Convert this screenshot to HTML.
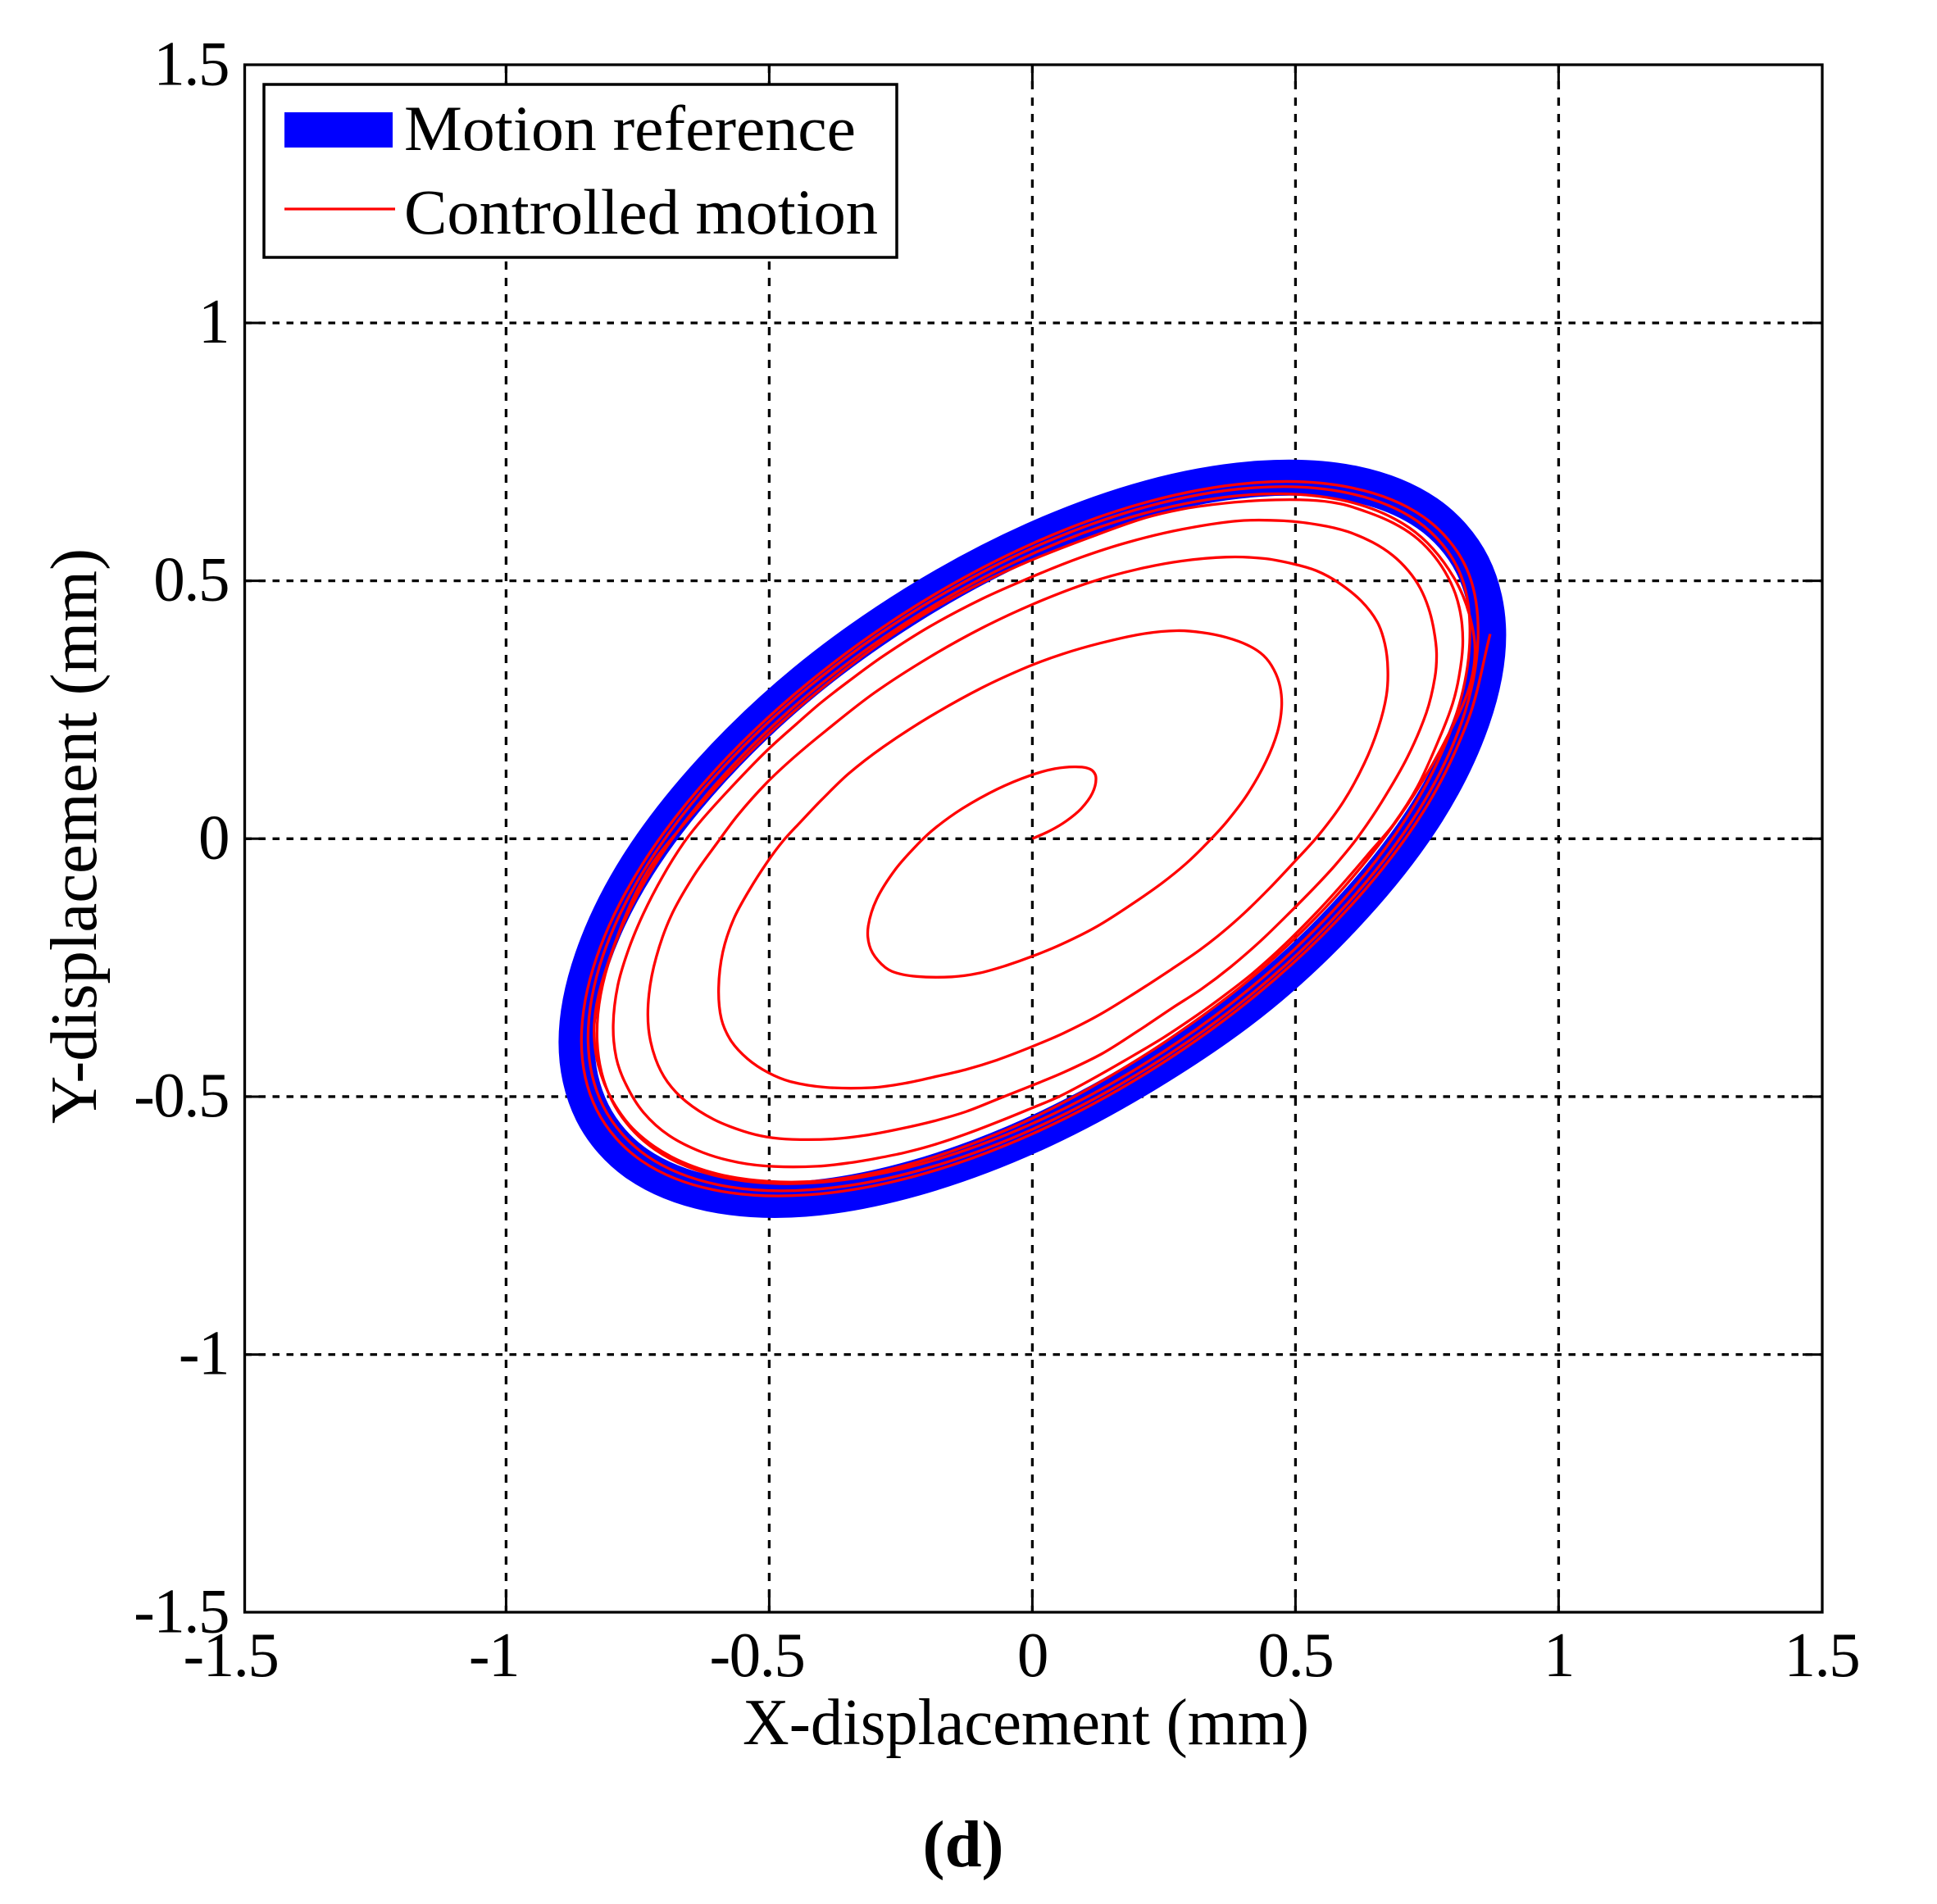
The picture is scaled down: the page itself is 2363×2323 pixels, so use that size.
<!DOCTYPE html>
<html>
<head>
<meta charset="utf-8">
<title>Motion reference vs controlled motion</title>
<style>
html,body{margin:0;padding:0;background:#fff;}
svg{display:block;}
text{font-family:"Liberation Serif",serif;fill:#000;}
</style>
</head>
<body>
<svg id="chart" width="2363" height="2323" viewBox="0 0 2363 2323" xmlns="http://www.w3.org/2000/svg">
  <rect x="0" y="0" width="2363" height="2323" fill="#fff"/>
  <g id="grid"></g>
  <g id="series"></g>
  <g id="frame"></g>
  <g id="labels"></g>
  <g>
    <rect x="322" y="103" width="772" height="211" fill="#fff" stroke="#000" stroke-width="3.5"/>
    <rect x="347" y="137" width="132" height="43" fill="#0000ff"/>
    <text x="493" y="183" font-size="78" textLength="551" lengthAdjust="spacingAndGlyphs">Motion reference</text>
    <line x1="347" y1="255" x2="482" y2="255" stroke="#ff0000" stroke-width="3.3"/>
    <text x="493" y="285" font-size="78" textLength="578" lengthAdjust="spacingAndGlyphs">Controlled motion</text>
  </g>
  <text x="906" y="2128" font-size="81" textLength="691" lengthAdjust="spacingAndGlyphs">X-displacement (mm)</text>
  <text transform="translate(117,1371) rotate(-90)" x="0" y="0" font-size="81" textLength="702" lengthAdjust="spacingAndGlyphs">Y-displacement (mm)</text>
  <text x="1175" y="2277" font-size="81" font-weight="bold" text-anchor="middle">(d)</text>
</svg>
<script>
const xTicks = [-1.5, -1, -0.5, 0, 0.5, 1, 1.5];
const yTicks = [-1.5, -1, -0.5, 0, 0.5, 1, 1.5];
const xTickLabels = ["-1.5", "-1", "-0.5", "0", "0.5", "1", "1.5"];
const yTickLabels = ["-1.5", "-1", "-0.5", "0", "0.5", "1", "1.5"];

const referenceX = [0,.224,.433,.612,.750,.836,.866,.836,.750,.612,.433,.224,0,-.224,-.433,-.612,-.750,-.836,-.866,-.836,-.750,-.612,-.433,-.224];
const referenceY = [.578,.661,.698,.688,.631,.531,.395,.232,.052,-.130,-.304,-.452,-.574,-.658,-.698,-.688,-.631,-.531,-.395,-.232,-.052,.130,.304,.456];

const controlledX = [
0,.037,.063,.094,.118,.124,.115,.084,.043,0,-.067,-.134,-.196,-.207,
-.264,-.300,-.316,-.313,-.295,-.269,-.233,-.139,-.108,-.046,0,.048,.126,.188,.250,.292,.333,.370,.411,.448,.468,.476,.473,.460,.442,.411,.370,.323,.281,.209,.126,.053,0,
-.093,-.196,-.290,-.352,-.404,-.446,-.472,-.503,-.539,-.570,-.591,-.599,-.594,-.575,-.544,-.500,-.466,-.404,-.290,-.243,-.191,-.124,-.072,0,.053,.131,.198,.271,.318,.364,.401,.448,.499,.541,.593,.634,.660,.676,.677,.671,.660,.629,.577,.541,.499,.442,.375,.281,.198,.115,0,
-.093,-.196,-.300,-.404,-.456,-.500,-.570,-.591,-.648,-.690,-.718,-.731,-.733,-.718,-.695,-.664,-.607,-.544,-.503,-.472,-.368,-.316,-.243,-.191,-.124,-.061,0,.053,.136,.203,.271,.318,.380,.427,.499,.541,.572,.619,.660,.717,.754,.767,.770,.764,.754,.738,.717,.686,.650,.598,.551,.479,.401,.281,.177,.094,0,
-.093,-.196,-.290,-.352,-.404,-.446,-.500,-.581,-.633,-.659,-.705,-.742,-.767,-.791,-.800,-.793,-.775,-.742,-.695,-.627,-.555,-.500,-.396,-.347,-.295,-.243,-.191,-.124,-.061,0,.053,.100,.177,.250,.318,.370,.416,.479,.541,.598,.645,.686,.730,.782,.800,.811,.821,.816,.806,.785,.759,.728,.686,.640,.582,.541,.427,.349,.281,.219,.115,0,
-.093,-.196,-.290,-.404,-.500,-.591,-.685,-.72,-.76,-.80,-.83,-.835,-.83,-.80,-.76,-.69,-.60,-.50,-.40,-.30,-.19,-.108,0,.1,.25,.42,.54,.645,.73,.80,.84,.85,
.81,.728,.594,.42,.217,0,-.217,-.42,-.594,-.728,-.811,-.84,-.811,-.728,-.594,-.42,-.217,0,.217,.42,.594,.728,.811,.84,
.828,.743,.606,.429,.222,0,-.222,-.429,-.606,-.743,-.828,-.857,-.828,-.743,-.606,-.429,-.222,0,.222,.429,.606,.743,.828,.857,
.84,.754,.615,.435,.225,0,-.225,-.435,-.615,-.754,-.84,-.87,-.84,-.754,-.615,-.435,-.225,0,.225,.435,.615,.754,.84,.87
];
const controlledY = [
0,.016,.032,.058,.085,.127,.135,.142,.137,.126,.098,.061,.013,0,
-.058,-.117,-.175,-.207,-.238,-.260,-.269,-.269,-.263,-.246,-.228,-.209,-.172,-.127,-.085,-.050,-.008,.032,.085,.154,.207,.254,.297,.328,.358,.376,.392,.400,.406,.400,.379,.358,.338,
.297,.238,.175,.127,.072,.026,0,-.042,-.101,-.154,-.217,-.291,-.355,-.392,-.429,-.456,-.471,-.485,-.485,-.474,-.463,-.448,-.432,-.403,-.381,-.342,-.297,-.249,-.217,-.180,-.146,-.101,-.042,0,.069,.148,.217,.281,.328,.381,.418,.463,.501,.522,.532,.546,.548,.541,.522,.503,.455,
.413,.352,.289,.199,.156,.116,.037,0,-.074,-.148,-.233,-.302,-.371,-.429,-.474,-.508,-.548,-.570,-.579,-.584,-.584,-.575,-.562,-.548,-.532,-.501,-.479,-.456,-.419,-.371,-.323,-.297,-.246,-.207,-.133,-.090,-.056,0,.064,.159,.249,.318,.360,.403,.450,.487,.519,.551,.575,.598,.609,.617,.622,.601,.575,.548,.508,
.469,.413,.352,.302,.265,.222,.180,.090,.032,0,-.074,-.148,-.212,-.281,-.365,-.429,-.474,-.535,-.577,-.612,-.630,-.637,-.637,-.628,-.620,-.609,-.596,-.572,-.548,-.521,-.501,-.474,-.429,-.387,-.339,-.300,-.265,-.207,-.143,-.079,-.021,.026,.085,.217,.259,.312,.376,.429,.477,.519,.556,.588,.614,.633,.652,.658,.658,.649,.639,.627,.586,.543,
.500,.443,.382,.290,.207,.115,0,-.04,-.11,-.22,-.31,-.371,-.44,-.51,-.57,-.62,-.655,-.667,-.667,-.65,-.62,-.59,-.545,-.49,-.40,-.275,-.155,-.035,.085,.215,.31,.38,
.515,.612,.667,.677,.641,.561,.442,.295,.126,-.05,-.225,-.383,-.515,-.612,-.667,-.677,-.641,-.561,-.442,-.295,-.126,.05,.225,.383,
.526,.625,.681,.691,.654,.572,.451,.301,.129,-.051,-.23,-.391,-.526,-.625,-.681,-.691,-.654,-.572,-.451,-.301,-.129,.051,.23,.391,
.534,.634,.691,.701,.664,.581,.458,.305,.131,-.052,-.233,-.397,-.534,-.634,-.691,-.701,-.664,-.581,-.458,-.305,-.131,.052,.233,.397
];

const SVGNS = "http://www.w3.org/2000/svg";
const PLOT_LEFT = 298.5, PLOT_RIGHT = 2223, PLOT_TOP = 79, PLOT_BOTTOM = 1967;
function xScale(v) { return 1259.4 + 642 * v; }
function yScale(v) { return 1023.3 - 629.3 * v; }

function make(parent, tag, attrs) {
  const el = document.createElementNS(SVGNS, tag);
  for (const k in attrs) el.setAttribute(k, attrs[k]);
  parent.appendChild(el);
  return el;
}

function relax(v) {
  return v.map(function (c, i) {
    if (i === 0 || i === v.length - 1) return c;
    return 0.22 * v[i - 1] + 0.56 * c + 0.22 * v[i + 1];
  });
}

function smoothPath(px, py, closed) {
  const n = px.length;
  const at = function (i) {
    if (closed) return [px[(i + n) % n], py[(i + n) % n]];
    const j = Math.max(0, Math.min(n - 1, i));
    return [px[j], py[j]];
  };
  const tangent = function (a, b) {
    const dx = b[0] - a[0], dy = b[1] - a[1];
    const len = Math.hypot(dx, dy) || 1;
    return [dx / len, dy / len];
  };
  let d = "M" + px[0].toFixed(1) + " " + py[0].toFixed(1);
  const last = closed ? n : n - 1;
  for (let i = 0; i < last; i++) {
    const p0 = at(i - 1), p1 = at(i), p2 = at(i + 1), p3 = at(i + 2);
    const seg = Math.hypot(p2[0] - p1[0], p2[1] - p1[1]) / 3;
    const t1 = tangent(p0, p2), t2 = tangent(p1, p3);
    const c1x = p1[0] + t1[0] * seg, c1y = p1[1] + t1[1] * seg;
    const c2x = p2[0] - t2[0] * seg, c2y = p2[1] - t2[1] * seg;
    d += "C" + c1x.toFixed(1) + " " + c1y.toFixed(1) + " " + c2x.toFixed(1) + " " + c2y.toFixed(1) + " " + p2[0].toFixed(1) + " " + p2[1].toFixed(1);
  }
  return closed ? d + "Z" : d;
}

const grid = document.getElementById("grid");
const frame = document.getElementById("frame");
const labels = document.getElementById("labels");
const series = document.getElementById("series");

xTicks.forEach(function (v, i) {
  const x = xScale(v);
  if (i > 0 && i < xTicks.length - 1) {
    const g = make(grid, "line", { x1: x, y1: PLOT_TOP, x2: x, y2: PLOT_BOTTOM, stroke: "#000", "stroke-width": 3.3, "stroke-dasharray": "10 10" });
    
    
    const t1 = make(frame, "line", { x1: x, y1: PLOT_TOP, x2: x, y2: PLOT_TOP + 24, stroke: "#000", "stroke-width": 3 });
    
    
    const t2 = make(frame, "line", { x1: x, y1: PLOT_BOTTOM, x2: x, y2: PLOT_BOTTOM - 27, stroke: "#000", "stroke-width": 3 });
    
    
  }
  const lab = make(labels, "text", { x: x - (v < 0 ? 15 : 0), y: 2045, "font-size": 77, "text-anchor": "middle", "letter-spacing": "-1.5" });
  
  
  lab.textContent = xTickLabels[i];
});

yTicks.forEach(function (v, i) {
  const y = yScale(v);
  if (i > 0 && i < yTicks.length - 1) {
    const g = make(grid, "line", { x1: PLOT_LEFT, y1: y, x2: PLOT_RIGHT, y2: y, stroke: "#000", "stroke-width": 3.3, "stroke-dasharray": "8.5 8.5" });
    
    
    const t1 = make(frame, "line", { x1: PLOT_LEFT, y1: y, x2: PLOT_LEFT + 24, y2: y, stroke: "#000", "stroke-width": 3 });
    
    
    const t2 = make(frame, "line", { x1: PLOT_RIGHT, y1: y, x2: PLOT_RIGHT - 24, y2: y, stroke: "#000", "stroke-width": 3 });
    
    
  }
  const lab = make(labels, "text", { x: 279, y: y + 24, "font-size": 77, "text-anchor": "end", "letter-spacing": "-1.5" });
  
  
  lab.textContent = yTickLabels[i];
});

const refPath = make(series, "path", { d: smoothPath(referenceX.map(xScale), referenceY.map(yScale), true), fill: "none", stroke: "#0000ff", "stroke-width": 44, "stroke-linejoin": "round" });



const ctrlPath = make(series, "path", { d: smoothPath(relax(controlledX.map(xScale)), relax(controlledY.map(yScale)), false), fill: "none", stroke: "#ff0000", "stroke-width": 3.3, "stroke-linejoin": "round" });



const box = make(frame, "rect", { x: PLOT_LEFT, y: PLOT_TOP, width: PLOT_RIGHT - PLOT_LEFT, height: PLOT_BOTTOM - PLOT_TOP, fill: "none", stroke: "#000", "stroke-width": 3.3 });


</script>
</body>
</html>
